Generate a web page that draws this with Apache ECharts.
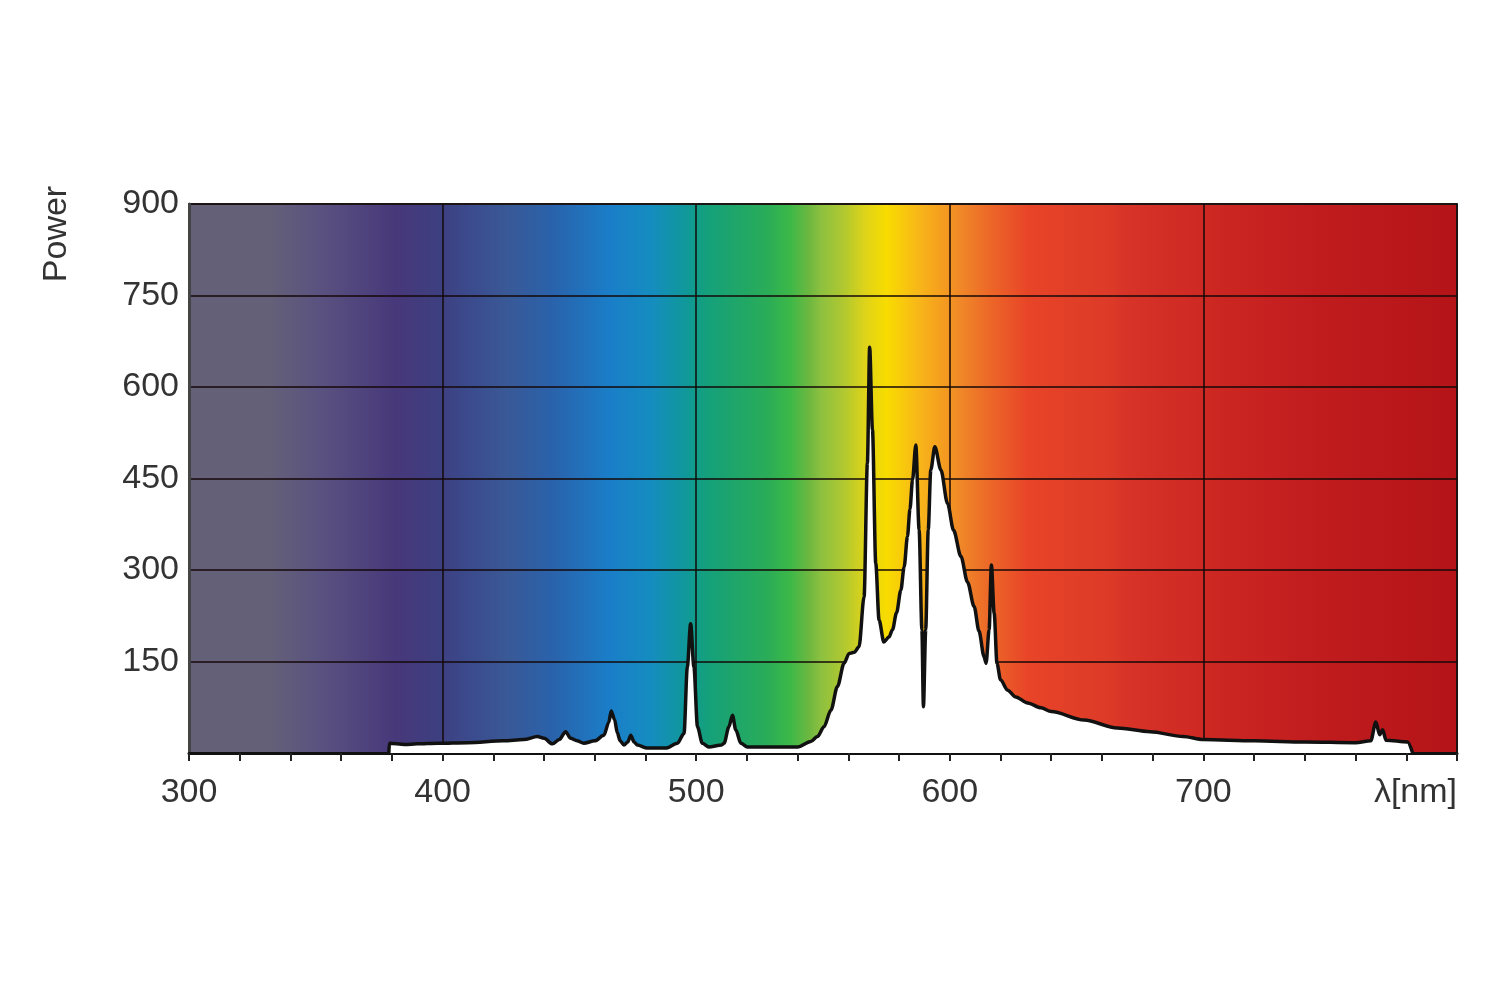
<!DOCTYPE html>
<html>
<head>
<meta charset="utf-8">
<script src="https://cdn.jsdelivr.net/npm/echarts@6/dist/echarts.min.js"></script>
<style>html,body{margin:0;padding:0;background:#fff}#chart{width:1500px;height:1000px}</style>
</head>
<body>
<div id="chart"></div>
<script>
// Wavelength (nm) and relative power
const wavelengths = [378.8,379,385,390,398,410,424,432,437.4,440,443.3,446,448.5,450.5,453,455.7,460,463.6,465.5,466.5,467.8,468.9,470,471.5,473,474.2,475.5,476.8,480.7,488,492.6,495.2,496.5,497.8,499.1,500.5,502.4,505,510,511,512.9,514.3,515.6,517.6,520.2,530,540,545.2,547.8,550.4,553.1,555.7,558.3,560.3,562.3,564.2,566.2,567.5,568.4,569.5,570.8,572.1,574,576,577.4,579,580.7,582,583.3,584.3,585.3,586.6,587.9,589,589.6,590.5,591.5,592.5,594.1,596.5,599.1,601.5,604.4,607,609.6,611.5,613.5,614.3,615.5,616.4,617.5,618.6,620,622.8,626,630.7,636,640,653,666,679,692,700,720,740,760,766,768,769.5,770.7,772,780.5,782.5];
const powers = [0,16,14,15,16,17,20,22,27,24,15,22,35,24,20,16,20,29,50,69,55,33,20,13,18,29,18,13,8,8,16,32,141,212,141,43,16,10,13,16,43,62,38,16,10,10,10,19,27,43,70,109,147,163,165,174,256,475,665,530,311,218,182,190,202,230,267,305,355,400,448,505,366,202,76,202,366,464,502,464,409,365,322,280,240,200,158,147,202,308,229,147,120,103,92,82,74,68,54,41,35,27,22,20,18,17,20,51,30,38,21,18,0];
const xTicks = [300,400,500,600,700,800];
const xTickLabels = ['300','400','500','600','700','λ[nm]'];
const yTicks = [150,300,450,600,750,900];

// spectrum background colour stops: [wavelength, colour]
const bgStops = [[300,'#646078'],[332,'#646078'],[352,'#5a5280'],[382,'#47387a'],[399,'#3d3f80'],[410,'#3b4a8c'],[425,'#3a5896'],[443,'#2a62aa'],[466,'#1a7ec8'],[482,'#158cc0'],[496,'#10989a'],[504,'#14a07c'],[528,'#2aac58'],[537,'#3cb848'],[545,'#70b840'],[549,'#8cc040'],[558,'#b0c830'],[567,'#e0d418'],[575,'#f8dc00'],[587,'#f8b818'],[598,'#f49a20'],[604,'#f08828'],[617,'#ec6428'],[631,'#e84428'],[664,'#dc3a28'],[668,'#d83428'],[707,'#cc2622'],[746,'#c01c1e'],[800,'#b41418']];

const data = wavelengths.map((w,i)=>[w,powers[i]]);
const chart = echarts.init(document.getElementById('chart'));
const font = 'Liberation Sans, Arial, sans-serif';
chart.setOption({
  animation:false,
  grid:{left:189,right:43,top:204,bottom:247,show:true,borderColor:'#3a3a3a',borderWidth:2,
    backgroundColor:{type:'linear',x:0,y:0,x2:1,y2:0,colorStops:bgStops.map(s=>({offset:(s[0]-300)/500,color:s[1]}))}},
  xAxis:{type:'value',min:300,max:800,interval:100,
    axisLine:{show:true,lineStyle:{color:'#111',width:3}},
    axisTick:{show:true,length:8,lineStyle:{color:'#222',width:2}},
    minorTick:{show:true,splitNumber:5,length:8,lineStyle:{color:'#222',width:2}},
    splitLine:{show:true,lineStyle:{color:'rgba(20,8,8,0.75)',width:2}},
    axisLabel:{margin:23,fontSize:34,color:'#333',fontFamily:font,alignMaxLabel:'right',
      formatter:v=>{const i=xTicks.indexOf(v);return i>=0?xTickLabels[i]:'';}}},
  yAxis:{type:'value',min:0,max:900,interval:150,
    axisLine:{show:true,lineStyle:{color:'#444',width:3}},
    axisTick:{show:false},
    splitLine:{show:true,lineStyle:{color:'rgba(20,8,8,0.75)',width:2}},
    axisLabel:{margin:10,fontSize:34,color:'#333',fontFamily:font,
      formatter:v=>yTicks.indexOf(v)>=0?String(v):''}},
  graphic:[{type:'text',x:57,y:234,rotation:Math.PI/2,
    style:{text:'Power',font:'34px '+font,fill:'#333',align:'center',verticalAlign:'middle'}}],
  series:[{type:'line',data:data,showSymbol:false,smooth:0.3,smoothMonotone:'x',
    lineStyle:{color:'#111',width:3.5,join:'round'},areaStyle:{color:'#ffffff',opacity:1}}]
});
</script>
</body>
</html>
